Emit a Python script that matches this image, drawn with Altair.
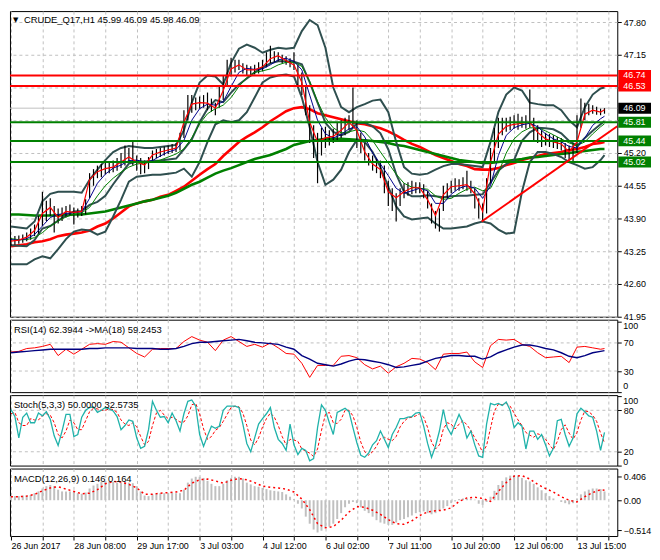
import altair as alt
import pandas as pd

FONT = "Liberation Sans"

# ---------------- data ----------------
LINE_IDX = list(range(0, 301, 4)) + [302]      # bar index for indicator lines
BAR_IDX = list(range(0, 303, 2))               # bar index for price bars / osc.

FAST_MA = [43.45, 43.47, 43.53, 43.66, 44.00, 44.12, 43.92, 44.04, 44.02, 44.04,
           44.67, 44.83, 44.89, 44.92, 45.02, 45.12, 45.02, 44.96, 45.16, 45.22,
           45.26, 45.30, 45.81, 46.17, 46.20, 46.19, 46.09, 46.44, 46.87, 46.95,
           46.85, 46.85, 46.91, 47.07, 47.13, 47.03, 46.95, 46.60, 45.81, 45.42,
           45.50, 45.53, 45.65, 45.81, 45.65, 45.22, 44.98, 44.87, 44.43, 44.31,
           44.43, 44.51, 44.51, 44.27, 43.96, 44.37, 44.53, 44.55, 44.57, 44.39,
           44.04, 45.02, 45.57, 45.73, 45.77, 45.79, 45.81, 45.61, 45.48, 45.42,
           45.38, 45.22, 45.42, 45.97, 46.05, 46.01, 46.06]
BLUE_MA = [43.48, 43.47, 43.50, 43.58, 43.75, 43.92, 43.98, 44.00, 44.02, 44.03,
           44.30, 44.60, 44.78, 44.90, 44.96, 45.05, 45.06, 45.02, 45.05, 45.14,
           45.22, 45.27, 45.45, 45.85, 46.08, 46.17, 46.15, 46.22, 46.52, 46.80,
           46.88, 46.86, 46.87, 46.95, 47.05, 47.08, 47.02, 46.85, 46.35, 45.85,
           45.58, 45.50, 45.56, 45.68, 45.72, 45.52, 45.20, 44.98, 44.75, 44.50,
           44.40, 44.45, 44.50, 44.45, 44.20, 44.20, 44.38, 44.50, 44.55, 44.50,
           44.30, 44.55, 45.15, 45.55, 45.70, 45.76, 45.79, 45.72, 45.58, 45.48,
           45.42, 45.33, 45.30, 45.50, 45.75, 45.88, 45.93]
GREEN_MA = [43.50, 43.48, 43.48, 43.52, 43.62, 43.75, 43.85, 43.93, 43.98, 44.01,
            44.12, 44.35, 44.55, 44.70, 44.82, 44.92, 44.98, 45.00, 45.02, 45.06,
            45.12, 45.18, 45.28, 45.50, 45.78, 45.98, 46.08, 46.15, 46.30, 46.52,
            46.70, 46.80, 46.83, 46.87, 46.95, 47.00, 47.00, 46.92, 46.62, 46.22,
            45.90, 45.70, 45.60, 45.62, 45.66, 45.62, 45.45, 45.22, 45.00, 44.78,
            44.60, 44.52, 44.50, 44.48, 44.35, 44.28, 44.30, 44.40, 44.48, 44.52,
            44.45, 44.50, 44.80, 45.20, 45.48, 45.62, 45.70, 45.70, 45.64, 45.56,
            45.48, 45.40, 45.35, 45.42, 45.58, 45.72, 45.78]
BB_UPPER = [43.74, 43.72, 43.70, 43.84, 44.24, 44.39, 44.43, 44.43, 44.43, 44.41,
            44.67, 44.87, 45.06, 45.22, 45.30, 45.34, 45.32, 45.30, 45.30, 45.32,
            45.34, 45.36, 45.65, 46.20, 46.60, 46.74, 46.72, 46.56, 46.99, 47.27,
            47.35, 47.29, 47.19, 47.25, 47.29, 47.27, 47.29, 47.62, 47.84, 47.74,
            47.29, 46.50, 46.11, 46.01, 46.11, 46.17, 46.24, 46.26, 46.01, 45.42,
            44.92, 44.79, 44.77, 44.79, 44.87, 44.94, 44.98, 44.98, 44.96, 44.94,
            44.92, 45.42, 46.01, 46.36, 46.50, 46.44, 46.20, 46.17, 46.15, 46.15,
            46.05, 45.85, 45.71, 46.11, 46.36, 46.48, 46.50]
BB_MIDDLE = [43.37, 43.36, 43.35, 43.47, 43.70, 43.75, 43.86, 43.96, 44.04, 44.05,
             44.17, 44.23, 44.35, 44.58, 44.79, 44.99, 45.03, 45.03, 45.04, 45.05,
             45.07, 45.09, 45.27, 45.47, 45.81, 46.08, 46.25, 46.21, 46.40, 46.56,
             46.68, 46.80, 46.90, 46.98, 47.02, 47.02, 47.01, 46.96, 46.60, 46.20,
             45.80, 45.62, 45.55, 45.62, 45.79, 45.80, 45.73, 45.59, 45.27, 44.78,
             44.43, 44.34, 44.34, 44.36, 44.34, 44.32, 44.34, 44.35, 44.35, 44.37,
             44.38, 44.61, 44.85, 44.98, 45.06, 45.44, 45.61, 45.70, 45.69, 45.67,
             45.59, 45.44, 45.34, 45.50, 45.64, 45.77, 45.83]
BB_LOWER = [42.99, 42.99, 42.99, 43.09, 43.15, 43.11, 43.29, 43.49, 43.64, 43.68,
            43.66, 43.58, 43.64, 43.94, 44.27, 44.63, 44.73, 44.75, 44.77, 44.77,
            44.79, 44.81, 44.89, 44.73, 45.02, 45.42, 45.77, 45.85, 45.81, 45.85,
            46.01, 46.30, 46.60, 46.70, 46.74, 46.76, 46.72, 46.30, 45.71, 45.02,
            44.57, 44.67, 44.87, 45.22, 45.46, 45.42, 45.22, 44.92, 44.53, 44.14,
            43.94, 43.88, 43.90, 43.92, 43.80, 43.70, 43.70, 43.72, 43.74, 43.80,
            43.84, 43.80, 43.68, 43.60, 43.62, 44.43, 45.02, 45.22, 45.22, 45.18,
            45.12, 45.02, 44.96, 44.89, 44.92, 45.06, 45.16]
SLOW_RED = [43.35, 43.37, 43.39, 43.43, 43.45, 43.49, 43.55, 43.58, 43.60, 43.62,
            43.66, 43.74, 43.80, 43.90, 44.02, 44.14, 44.20, 44.24, 44.27, 44.33,
            44.37, 44.45, 44.53, 44.65, 44.77, 44.88, 44.98, 45.14, 45.28, 45.42,
            45.52, 45.61, 45.71, 45.83, 45.93, 46.03, 46.09, 46.11, 46.07, 45.99,
            45.95, 45.91, 45.87, 45.83, 45.79, 45.77, 45.73, 45.69, 45.63, 45.55,
            45.46, 45.38, 45.32, 45.24, 45.16, 45.10, 45.04, 44.98, 44.94, 44.88,
            44.87, 44.87, 44.90, 44.96, 45.00, 45.06, 45.10, 45.14, 45.18, 45.20,
            45.22, 45.26, 45.28, 45.32, 45.38, 45.40, 45.42]
SLOW_GREEN = [43.98, 43.98, 43.97, 43.96, 43.96, 43.96, 43.96, 43.97, 43.98, 43.98,
              44.00, 44.02, 44.04, 44.08, 44.12, 44.16, 44.20, 44.24, 44.27, 44.31,
              44.35, 44.41, 44.49, 44.57, 44.63, 44.71, 44.79, 44.85, 44.90, 44.96,
              45.02, 45.08, 45.12, 45.16, 45.22, 45.28, 45.36, 45.40, 45.44, 45.46,
              45.48, 45.48, 45.48, 45.47, 45.46, 45.45, 45.44, 45.42, 45.40, 45.36,
              45.34, 45.30, 45.26, 45.22, 45.18, 45.14, 45.10, 45.06, 45.04, 45.02,
              45.00, 45.00, 45.02, 45.04, 45.06, 45.08, 45.11, 45.12, 45.14, 45.16,
              45.18, 45.20, 45.22, 45.24, 45.26, 45.28, 45.28]

BAR_LOW = [43.36, 43.38, 43.40, 43.42, 43.45, 43.48, 43.55, 43.60, 43.75, 43.85,
           43.95, 43.62, 43.80, 43.85, 43.92, 43.95, 43.78, 43.92, 43.95, 43.98,
           44.30, 44.55, 44.70, 44.72, 44.78, 44.80, 44.82, 44.85, 44.90, 44.95,
           45.00, 44.95, 44.85, 44.78, 44.80, 44.88, 45.05, 45.10, 45.12, 45.15,
           45.18, 45.20, 45.22, 45.25, 45.50, 45.85, 46.00, 46.05, 46.08, 46.10,
           46.05, 46.02, 45.95, 46.10, 46.25, 46.55, 46.72, 46.80, 46.85, 46.78,
           46.75, 46.72, 46.76, 46.78, 46.82, 46.90, 46.98, 47.00, 47.02, 46.98,
           46.95, 46.90, 46.85, 46.55, 46.35, 45.95, 45.40, 45.10, 44.60, 45.15,
           45.30, 45.35, 45.40, 45.45, 45.50, 45.55, 45.65, 45.70, 45.30, 45.20,
           45.05, 44.95, 44.85, 44.80, 44.70, 44.40, 44.15, 44.05, 43.84, 44.15,
           44.30, 44.35, 44.38, 44.40, 44.40, 44.30, 44.10, 43.80, 43.70, 43.64,
           44.05, 44.30, 44.40, 44.45, 44.45, 44.48, 44.45, 44.40, 44.10, 43.90,
           43.84, 44.00, 44.60, 45.00, 45.30, 45.55, 45.62, 45.65, 45.68, 45.66,
           45.70, 45.68, 45.70, 45.45, 45.40, 45.32, 45.35, 45.32, 45.30, 45.28,
           45.25, 45.10, 45.05, 45.02, 45.20, 45.70, 45.85, 45.95, 45.98, 45.96,
           45.95, 45.98]
BAR_HIGH = [43.52, 43.55, 43.56, 43.58, 43.62, 43.70, 43.78, 43.95, 44.43, 44.25,
            44.30, 44.15, 44.10, 44.12, 44.15, 44.18, 44.12, 44.10, 44.15, 44.28,
            44.80, 44.88, 44.95, 44.98, 45.00, 45.02, 45.05, 45.10, 45.20, 45.35,
            45.30, 45.46, 45.15, 45.10, 45.05, 45.12, 45.25, 45.28, 45.30, 45.33,
            45.35, 45.38, 45.40, 45.60, 46.05, 46.35, 46.35, 46.30, 46.32, 46.35,
            46.40, 46.28, 46.20, 46.55, 46.75, 47.05, 47.09, 47.05, 47.05, 46.98,
            46.95, 46.92, 46.95, 47.00, 47.05, 47.20, 47.33, 47.22, 47.20, 47.15,
            47.12, 47.08, 47.20, 46.95, 46.80, 46.55, 46.15, 45.75, 45.60, 45.70,
            45.72, 45.65, 45.68, 45.80, 45.85, 45.90, 45.95, 46.50, 45.85, 45.60,
            45.40, 45.20, 45.15, 45.10, 45.05, 44.95, 44.65, 44.50, 44.40, 44.50,
            44.60, 44.62, 44.65, 44.62, 44.62, 44.58, 44.45, 44.20, 44.05, 44.10,
            44.55, 44.60, 44.65, 44.70, 44.68, 44.72, 44.85, 44.65, 44.50, 44.30,
            44.20, 44.70, 45.30, 45.70, 45.90, 45.90, 45.90, 45.92, 45.95, 45.98,
            45.92, 45.95, 46.46, 45.90, 45.75, 45.65, 45.60, 45.58, 45.55, 45.52,
            45.50, 45.40, 45.35, 45.40, 45.95, 46.28, 46.20, 46.18, 46.15, 46.12,
            46.08, 46.09]

RSI = [57, 58, 62, 63, 65, 68, 52, 61, 54, 61,
       68, 69, 68, 72, 71, 63, 55, 50, 61, 62,
       62, 62, 72, 79, 74, 71, 59, 74, 79, 72,
       65, 68, 64, 70, 63, 55, 54, 41, 21, 38,
       38, 38, 51, 52, 49, 39, 33, 37, 27, 36,
       41, 48, 47, 42, 32, 54, 55, 55, 57, 43,
       35, 66, 75, 74, 75, 68, 65, 56, 49, 50,
       51, 42, 64, 65, 63, 61, 62]
RSI_MA = [56, 57, 58, 59, 60, 61, 61, 61, 61, 61,
          62, 62, 63, 63, 63, 63, 62, 62, 62, 61,
          61, 62, 65, 69, 71, 71, 72, 73, 74, 75,
          73, 71, 70, 69, 68, 64, 61, 52, 47, 41,
          39, 37, 40, 44, 47, 46, 44, 42, 39, 35,
          36, 38, 40, 44, 48, 50, 52, 52, 51, 51,
          47, 50, 56, 60, 64, 67, 67, 65, 62, 60,
          56, 51, 49, 52, 56, 58, 59]

STOCH_K = [81, 71, 40, 70, 76, 62, 62, 76, 72, 78,
           67, 43, 29, 50, 74, 74, 42, 45, 70, 80,
           84, 85, 77, 80, 84, 82, 79, 71, 52, 58,
           66, 64, 40, 25, 28, 52, 93, 80, 70, 71,
           62, 76, 65, 50, 75, 93, 95, 86, 45, 28,
           43, 57, 54, 57, 80, 86, 86, 86, 84, 60,
           32, 20, 40, 60, 68, 75, 84, 55, 38, 32,
           22, 60, 30, 16, 25, 22, 7, 10, 55, 88,
           80, 62, 45, 77, 80, 83, 78, 55, 33, 15,
           12, 18, 30, 36, 50, 38, 26, 45, 55, 68,
           68, 70, 71, 76, 77, 57, 32, 12, 28, 50,
           81, 55, 45, 60, 74, 62, 40, 50, 30, 14,
           12, 60, 90, 88, 90, 87, 92, 80, 55, 62,
           57, 24, 50, 50, 38, 45, 30, 14, 25, 65,
           67, 45, 28, 40, 75, 83, 78, 72, 70, 50,
           22, 48]
STOCH_D = [75, 77, 62, 58, 58, 68, 66, 66, 72, 75,
           73, 62, 45, 40, 50, 66, 62, 52, 52, 65,
           78, 83, 82, 80, 80, 82, 81, 77, 66, 60,
           58, 62, 56, 42, 30, 35, 58, 76, 80, 73,
           68, 70, 67, 63, 63, 72, 88, 90, 75, 53,
           38, 42, 51, 55, 64, 74, 84, 86, 85, 76,
           58, 37, 30, 40, 56, 68, 76, 70, 58, 42,
           30, 38, 37, 35, 24, 21, 18, 13, 24, 51,
           74, 77, 62, 61, 67, 80, 80, 72, 55, 34,
           20, 15, 20, 28, 39, 41, 38, 36, 42, 56,
           64, 69, 70, 72, 75, 70, 55, 34, 24, 30,
           53, 62, 60, 53, 60, 65, 59, 51, 40, 31,
           19, 29, 54, 79, 89, 88, 90, 86, 76, 66,
           58, 48, 44, 41, 46, 44, 38, 30, 23, 35,
           52, 59, 47, 38, 48, 66, 79, 78, 73, 64,
           47, 33]

MACD_MAIN = [0.07, 0.07, 0.07, 0.08, 0.08, 0.09, 0.12, 0.15, 0.20, 0.24,
             0.26, 0.24, 0.18, 0.15, 0.15, 0.15, 0.14, 0.12, 0.11, 0.13,
             0.20, 0.25, 0.28, 0.31, 0.32, 0.32, 0.31, 0.30, 0.30, 0.31,
             0.30, 0.29, 0.24, 0.15, 0.08, 0.07, 0.10, 0.12, 0.12, 0.12,
             0.12, 0.13, 0.12, 0.12, 0.18, 0.30, 0.37, 0.40, 0.40, 0.38,
             0.33, 0.28, 0.24, 0.24, 0.28, 0.34, 0.38, 0.40, 0.40, 0.37,
             0.30, 0.27, 0.24, 0.23, 0.21, 0.19, 0.17, 0.16, 0.15, 0.14,
             0.10, 0.06, 0.02, -0.06, -0.14, -0.28, -0.40, -0.50, -0.55, -0.52,
             -0.47, -0.45, -0.40, -0.32, -0.22, -0.12, -0.06, -0.03, -0.05, -0.12,
             -0.18, -0.22, -0.28, -0.34, -0.38, -0.40, -0.42, -0.42, -0.38, -0.34,
             -0.32, -0.29, -0.26, -0.22, -0.20, -0.19, -0.22, -0.24, -0.22, -0.17,
             -0.14, -0.10, -0.05, -0.02, 0.02, 0.03, 0.03, 0.02, 0.01, -0.06,
             -0.08, -0.03, 0.06, 0.16, 0.26, 0.33, 0.39, 0.42, 0.43, 0.42,
             0.38, 0.34, 0.32, 0.28, 0.22, 0.17, 0.12, 0.07, 0.03, 0.00,
             -0.03, -0.05, -0.07, -0.05, 0.03, 0.10, 0.15, 0.18, 0.20, 0.20,
             0.19, 0.15]
MACD_SIGNAL = [0.06, 0.06, 0.07, 0.10, 0.16, 0.21, 0.23, 0.19, 0.15, 0.11,
               0.12, 0.18, 0.28, 0.32, 0.31, 0.27, 0.21, 0.10, 0.10, 0.12,
               0.13, 0.14, 0.17, 0.29, 0.35, 0.36, 0.33, 0.29, 0.34, 0.37,
               0.35, 0.30, 0.24, 0.22, 0.21, 0.19, 0.14, 0.02, -0.16, -0.40,
               -0.47, -0.45, -0.34, -0.20, -0.11, -0.12, -0.17, -0.24, -0.33, -0.40,
               -0.41, -0.35, -0.26, -0.20, -0.18, -0.17, -0.13, -0.02, 0.04, 0.05,
               0.03, -0.02, 0.15, 0.30, 0.41, 0.42, 0.36, 0.27, 0.20, 0.14,
               0.06, 0.00, -0.03, 0.06, 0.13, 0.18, 0.17]

LEVELS = [46.74, 46.53, 45.81, 45.44, 45.02]
LEVEL_COLORS = ["#FF0000", "#FF0000", "#008000", "#008000", "#008000"]
BID = 46.09
TREND_IDX = [239.5, 308.5]
TREND_VAL = [43.84, 45.73]

PRICE_TICKS = [41.95, 42.60, 43.25, 43.90, 44.55, 45.20, 45.85, 46.50, 47.15, 47.80]
HIDDEN_PRICE_LABELS = [45.85, 46.50]          # covered by level boxes in the reference
GRID_X = list(range(0, 305, 16))
DATE_POS = [0, 32, 64, 96, 128, 160, 192, 224, 256, 288]
DATE_TXT = ["26 Jun 2017", "28 Jun 08:00", "29 Jun 17:00", "3 Jul 03:00", "4 Jul 12:00",
            "6 Jul 02:00", "7 Jul 11:00", "10 Jul 20:00", "12 Jul 06:00", "13 Jul 15:00"]

RSI_END_LABELS = [100, 0]
STO_END_LABELS = [100, 0]

TITLE_MAIN = "CRUDE_Q17,H1  45.99 46.09 45.98 46.09"
TITLE_RSI = "RSI(14) 62.3944  ->MA(18) 59.2453"
TITLE_STO = "Stoch(5,3,3) 50.0000 32.5735"
TITLE_MACD = "MACD(12,26,9) 0.146 0.164"

# ---------------- layout ----------------
W = 612
H_MAIN, H_RSI, H_STO, H_MACD = 308, 73, 71, 68

XS = alt.Scale(domain=[-0.5, 308.5], nice=False, zero=False)
YS_MAIN = alt.Scale(domain=[41.95, 48.017], nice=False, zero=False)
YS_RSI = alt.Scale(domain=[0, 103], nice=False, zero=False)
YS_STO = alt.Scale(domain=[0, 102], nice=False, zero=False)
YS_MACD = alt.Scale(domain=[-0.61, 0.54], nice=False, zero=False)

GRID = dict(grid=True, gridColor="#C0C0C0", gridDash=[3, 3], gridWidth=1)
LAB = dict(labelFont=FONT, labelFontSize=9, labelColor="black", labelOverlap=False)
TICK = dict(tickSize=4, tickColor="black", domain=False, title=None, labelPadding=2)

X_HIDDEN = alt.Axis(values=GRID_X, labels=False, ticks=False, domain=False, title=None, **GRID)
date_expr = " : ".join(f"datum.value == {p} ? '{t}'" for p, t in zip(DATE_POS, DATE_TXT)) + " : ''"
X_BOTTOM = alt.Axis(values=GRID_X, labelExpr=date_expr, labelAlign="left", labelAngle=0,
                    labelFlush=False, labelBound=False, **TICK, **GRID, **LAB)

hide_expr = " || ".join(f"abs(datum.value - {v}) < 0.001" for v in HIDDEN_PRICE_LABELS)
Y_MAIN = alt.Axis(orient="right", values=PRICE_TICKS,
                  labelExpr=f"({hide_expr}) ? '' : format(datum.value, '.2f')",
                  **TICK, **GRID, **LAB)
Y_RSI = alt.Axis(orient="right", values=[0, 30, 70, 100],
                 labelExpr="(datum.value == 0 || datum.value == 100) ? '' : datum.label",
                 grid=False, **TICK, **LAB)
Y_STO = alt.Axis(orient="right", values=[0, 20, 80, 100],
                 labelExpr="(datum.value == 0 || datum.value == 100) ? '' : datum.label",
                 grid=False, **TICK, **LAB)
Y_MACD = alt.Axis(orient="right", values=[-0.514, 0, 0.406],
                  labelExpr="datum.value == 0 ? '0.00' : format(datum.value, '.3f')",
                  grid=False, labelFlush=False, **TICK, **LAB)


def line(idx, vals, color, width, ys, yax, xax, dash=None):
    df = pd.DataFrame(list(zip(idx, vals)), columns=["i", "v"])
    mk = dict(color=color, strokeWidth=width, clip=True)
    if dash:
        mk["strokeDash"] = dash
    return alt.Chart(df).mark_line(**mk).encode(
        x=alt.X("i:Q", scale=XS, axis=xax), y=alt.Y("v:Q", scale=ys, axis=yax))


def hrules(vals, colors, width, ys, yax, dash=None):
    df = pd.DataFrame({"v": vals, "c": colors})
    mk = dict(strokeWidth=width)
    if dash:
        mk["strokeDash"] = dash
    return alt.Chart(df).mark_rule(**mk).encode(
        y=alt.Y("v:Q", scale=ys, axis=yax), color=alt.Color("c:N", scale=None))


def label_text(txt, y):
    return alt.Chart(pd.DataFrame({"t": [txt]})).mark_text(
        align="left", baseline="middle", font=FONT, fontSize=9.5, color="black").encode(
        x=alt.value(4), y=alt.value(y), text="t:N")


def end_label(val, ys, yax, dy):
    return alt.Chart(pd.DataFrame({"v": [val], "t": [str(val)]})).mark_text(
        align="left", baseline="middle", font=FONT, fontSize=9, color="black", dy=dy).encode(
        x=alt.value(W + 6), y=alt.Y("v:Q", scale=ys, axis=yax), text="t:N")


# ---------------- main price panel ----------------
bars_df = pd.DataFrame(list(zip(BAR_IDX, BAR_LOW, BAR_HIGH)), columns=["i", "lo", "hi"])
bars = alt.Chart(bars_df).mark_rule(color="black", strokeWidth=1.2).encode(
    x=alt.X("i:Q", scale=XS, axis=X_HIDDEN),
    y=alt.Y("lo:Q", scale=YS_MAIN, axis=Y_MAIN), y2="hi:Q")

box_vals = LEVELS[:2] + [BID] + LEVELS[2:]
box_cols = LEVEL_COLORS[:2] + ["#000000"] + LEVEL_COLORS[2:]
box_df = pd.DataFrame({"v": box_vals, "c": box_cols, "lab": [f"{v:.2f}" for v in box_vals]})
boxes = alt.Chart(box_df).mark_rect(yOffset=-5.5, y2Offset=5.5).encode(
    x=alt.value(W + 1), x2=alt.value(W + 34),
    y=alt.Y("v:Q", scale=YS_MAIN, axis=Y_MAIN), y2="v:Q",
    color=alt.Color("c:N", scale=None))
box_txt = alt.Chart(box_df).mark_text(
    align="left", baseline="middle", font=FONT, fontSize=9, color="white").encode(
    x=alt.value(W + 6), y=alt.Y("v:Q", scale=YS_MAIN, axis=Y_MAIN), text="lab:N")

tri = alt.Chart(pd.DataFrame({"t": ["\u25BC"]})).mark_text(
    align="left", baseline="middle", font="DejaVu Sans", fontSize=7, color="black").encode(
    x=alt.value(3), y=alt.value(9), text="t:N")
title_main = alt.Chart(pd.DataFrame({"t": [TITLE_MAIN]})).mark_text(
    align="left", baseline="middle", font=FONT, fontSize=9.5, color="black").encode(
    x=alt.value(14), y=alt.value(9), text="t:N")

main_layers = [
    hrules([BID], ["#C0C0C0"], 1, YS_MAIN, Y_MAIN),
    line(LINE_IDX, SLOW_RED, "#FF0000", 2.6, YS_MAIN, Y_MAIN, X_HIDDEN),
    line(LINE_IDX, SLOW_GREEN, "#008000", 2.6, YS_MAIN, Y_MAIN, X_HIDDEN),
    line(LINE_IDX, BB_UPPER, "#2F4F4F", 2, YS_MAIN, Y_MAIN, X_HIDDEN),
    line(LINE_IDX, BB_MIDDLE, "#2F4F4F", 2, YS_MAIN, Y_MAIN, X_HIDDEN),
    line(LINE_IDX, BB_LOWER, "#2F4F4F", 2, YS_MAIN, Y_MAIN, X_HIDDEN),
    bars,
    line(LINE_IDX, GREEN_MA, "#008000", 1, YS_MAIN, Y_MAIN, X_HIDDEN),
    line(LINE_IDX, BLUE_MA, "#00008B", 1, YS_MAIN, Y_MAIN, X_HIDDEN),
    line(LINE_IDX, FAST_MA, "#FF0000", 1.2, YS_MAIN, Y_MAIN, X_HIDDEN),
    hrules(LEVELS, LEVEL_COLORS, 2, YS_MAIN, Y_MAIN),
    line(TREND_IDX, TREND_VAL, "#FF0000", 2, YS_MAIN, Y_MAIN, X_HIDDEN),
    tri, title_main, boxes, box_txt,
]
main = alt.layer(*main_layers).properties(width=W, height=H_MAIN)

# ---------------- RSI ----------------
rsi = alt.layer(
    hrules([30, 70], ["#C0C0C0", "#C0C0C0"], 1, YS_RSI, Y_RSI, dash=[3, 3]),
    line(LINE_IDX, RSI, "#FF0000", 1, YS_RSI, Y_RSI, X_HIDDEN),
    line(LINE_IDX, RSI_MA, "#000080", 1.4, YS_RSI, Y_RSI, X_HIDDEN),
    label_text(TITLE_RSI, 10),
    end_label(RSI_END_LABELS[0], YS_RSI, Y_RSI, 4),
    end_label(RSI_END_LABELS[1], YS_RSI, Y_RSI, -6),
).properties(width=W, height=H_RSI)

# ---------------- Stochastic ----------------
sto = alt.layer(
    hrules([20, 80], ["#C0C0C0", "#C0C0C0"], 1, YS_STO, Y_STO, dash=[3, 3]),
    line(BAR_IDX, STOCH_D, "#FF0000", 1, YS_STO, Y_STO, X_HIDDEN, dash=[3, 2]),
    line(BAR_IDX, STOCH_K, "#20B2AA", 1.3, YS_STO, Y_STO, X_HIDDEN),
    label_text(TITLE_STO, 10),
    end_label(STO_END_LABELS[0], YS_STO, Y_STO, 5),
    end_label(STO_END_LABELS[1], YS_STO, Y_STO, -3.5),
).properties(width=W, height=H_STO)

# ---------------- MACD ----------------
macd_df = pd.DataFrame(list(zip(BAR_IDX, MACD_MAIN)), columns=["i", "v"])
macd_df["z"] = 0.0
hist = alt.Chart(macd_df).mark_rule(color="#C0C0C0", strokeWidth=2).encode(
    x=alt.X("i:Q", scale=XS, axis=X_BOTTOM),
    y=alt.Y("v:Q", scale=YS_MACD, axis=Y_MACD), y2="z:Q")
macd = alt.layer(
    hist,
    line(LINE_IDX, MACD_SIGNAL, "#FF0000", 1.5, YS_MACD, Y_MACD, X_BOTTOM, dash=[2, 3]),
    label_text(TITLE_MACD, 11),
).properties(width=W, height=H_MACD)

chart = alt.vconcat(main, rsi, sto, macd, spacing=3, bounds="flush").properties(
    padding=0, background="white"
).configure_view(stroke="black", strokeWidth=1)

chart.save("out.html", embed_options={"renderer": "svg", "actions": False})
